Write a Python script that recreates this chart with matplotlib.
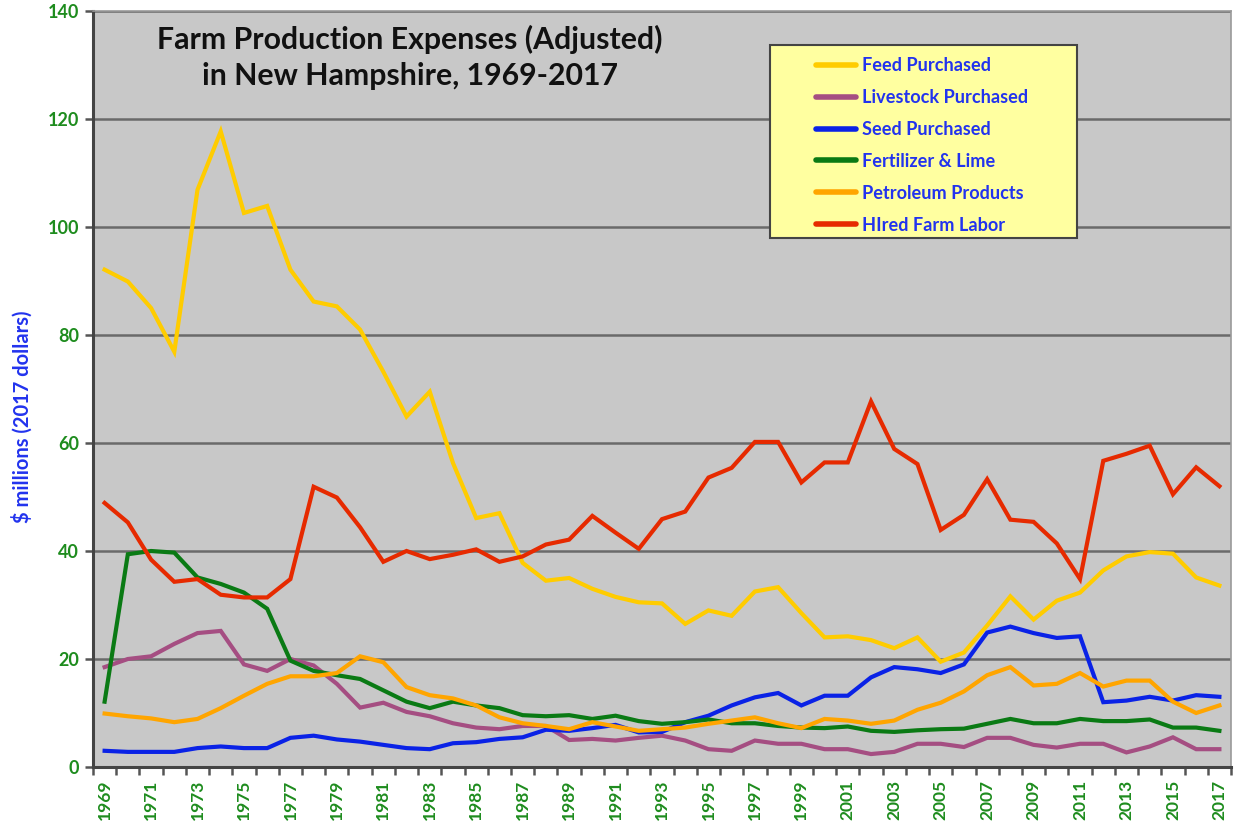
import matplotlib
matplotlib.use("Agg")
import matplotlib.pyplot as plt
from matplotlib.patches import Rectangle
from matplotlib.ticker import FixedLocator
import numpy as np

years = list(range(1969, 2018))

feed = [92.1, 89.9, 85.0, 76.9, 106.9, 117.7, 102.6, 103.9, 92.1, 86.2, 85.3, 81.0,
        73.2, 64.9, 69.5, 56.3, 46.1, 47.0, 37.8, 34.5, 35.0, 33.0, 31.5, 30.5, 30.3,
        26.5, 29.0, 28.0, 32.5, 33.3, 28.5, 24.0, 24.2, 23.5, 22.0, 24.0, 19.5, 21.2,
        26.2, 31.6, 27.3, 30.8, 32.3, 36.4, 39.0, 39.8, 39.5, 35.1, 33.6]
livestock = [18.5, 20.0, 20.5, 22.8, 24.8, 25.2, 19.0, 17.8, 20.0, 18.8, 15.4, 11.0,
             11.9, 10.2, 9.4, 8.1, 7.3, 7.0, 7.6, 7.6, 5.0, 5.2, 4.9, 5.4, 5.8, 4.9,
             3.3, 3.0, 4.9, 4.3, 4.3, 3.3, 3.3, 2.4, 2.8, 4.3, 4.3, 3.7, 5.4, 5.4, 4.1,
             3.6, 4.3, 4.3, 2.7, 3.8, 5.5, 3.3, 3.3]
seed = [3.0, 2.8, 2.8, 2.8, 3.5, 3.8, 3.5, 3.5, 5.4, 5.8, 5.1, 4.7, 4.1, 3.5, 3.3,
        4.4, 4.6, 5.2, 5.5, 6.9, 6.7, 7.2, 7.8, 6.4, 6.5, 8.3, 9.5, 11.4, 12.9, 13.7,
        11.4, 13.2, 13.2, 16.6, 18.5, 18.1, 17.4, 19.0, 24.9, 26.0, 24.8, 23.9, 24.2,
        12.0, 12.3, 13.0, 12.3, 13.3, 13.0]
fertilizer = [12.1, 39.4, 40.0, 39.7, 35.1, 33.9, 32.3, 29.3, 19.7, 17.8, 17.0, 16.3,
              14.2, 12.1, 10.9, 12.1, 11.4, 10.9, 9.6, 9.4, 9.6, 8.9, 9.5, 8.5, 8.0,
              8.3, 8.8, 8.1, 8.1, 7.6, 7.3, 7.2, 7.5, 6.7, 6.5, 6.8, 7.0, 7.1, 8.0, 8.9,
              8.1, 8.1, 8.9, 8.5, 8.5, 8.8, 7.3, 7.3, 6.7]
petroleum = [9.9, 9.4, 9.0, 8.3, 8.9, 10.9, 13.2, 15.4, 16.8, 16.8, 17.4, 20.5, 19.4,
             14.8, 13.3, 12.7, 11.4, 9.2, 8.1, 7.6, 7.0, 8.3, 7.5, 6.7, 7.0, 7.3, 8.0,
             8.6, 9.2, 8.1, 7.2, 8.9, 8.6, 8.0, 8.6, 10.6, 11.9, 14.0, 17.0, 18.5, 15.1,
             15.4, 17.4, 14.9, 16.0, 16.0, 12.1, 10.0, 11.4]
labor = [48.9, 45.3, 38.4, 34.3, 34.8, 31.9, 31.4, 31.4, 34.8, 51.9, 49.9, 44.4, 38.0,
         40.0, 38.5, 39.3, 40.3, 38.0, 39.0, 41.2, 42.1, 46.5, 43.4, 40.4, 45.9, 47.3,
         53.6, 55.4, 60.2, 60.2, 52.7, 56.4, 56.4, 67.7, 58.9, 56.1, 43.9, 46.7, 53.3,
         45.8, 45.4, 41.4, 34.8, 56.7, 58.0, 59.5, 50.5, 55.5, 52.0]

series_names = ["Feed Purchased", "Livestock Purchased", "Seed Purchased",
                "Fertilizer & Lime", "Petroleum Products", "HIred Farm Labor"]
series_values = [feed, livestock, seed, fertilizer, petroleum, labor]
series_colors = ["#ffcc00", "#a54e82", "#0a22e6", "#0a7a14", "#ffa500", "#e62a00"]

y_ticks = [0, 20, 40, 60, 80, 100, 120, 140]
x_labels = [str(y) for y in years[::2]]

title_lines = ["Farm Production Expenses (Adjusted)", "in New Hampshire, 1969-2017"]
y_label = "$ millions (2017 dollars)"

plt.rcParams['font.family'] = ['Lato', 'DejaVu Sans']

W, H = 1238, 831
fig = plt.figure(figsize=(W / 100, H / 100), dpi=100)
ax = fig.add_axes([93 / W, 1 - 767 / H, (1231 - 93) / W, (767 - 11) / H])
ax.set_facecolor("#c8c8c8")

x = np.arange(len(years))
lines = []
for name, vals, col in zip(series_names, series_values, series_colors):
    ln, = ax.plot(x, vals, color=col, lw=3.0, label=name, solid_joinstyle='miter',
                  zorder=3)
    lines.append(ln)

ax.set_xlim(-0.5, len(years) - 0.5)
ax.set_ylim(0, 140)

# y axis
ax.set_yticks(y_ticks)
ax.yaxis.grid(True, color="#6a6a6a", lw=1.8, zorder=1)
ax.set_axisbelow(True)
ax.tick_params(axis='y', direction='out', length=6, width=1.8, color="#555555",
               labelsize=13, labelcolor="#1e8c1e", pad=4)
for lab in ax.get_yticklabels():
    lab.set_fontweight('bold')

# x axis: labels every two years, ticks at category boundaries
ax.xaxis.set_major_locator(FixedLocator(x[::2]))
ax.set_xticklabels(x_labels, rotation=90, fontsize=12.5, fontweight='bold',
                   color="#1e8c1e")
ax.tick_params(axis='x', which='major', length=0, pad=9)
ax.xaxis.set_minor_locator(FixedLocator(np.arange(-0.5, len(years), 1.0)))
ax.tick_params(axis='x', which='minor', direction='out', length=6, width=1.8,
               color="#555555")

for side in ['left', 'bottom']:
    ax.spines[side].set_color("#444444")
    ax.spines[side].set_linewidth(2.2)
for side in ['top', 'right']:
    ax.spines[side].set_color("#9a9a9a")
    ax.spines[side].set_linewidth(1.2)

fig.text(22 / W, 1 - 417 / H, y_label, rotation=90, ha='center', va='center',
         fontsize=14.5, fontweight='bold', color="#2233ee")

fig.text(410 / W, 1 - 39 / H, title_lines[0], ha='center', va='center',
         fontsize=21.8, fontweight='bold', color="#111111")
fig.text(410 / W, 1 - 76 / H, title_lines[1], ha='center', va='center',
         fontsize=21.8, fontweight='bold', color="#111111")

# legend box
fig.patches.append(Rectangle((770 / W, 1 - 238 / H), 307 / W, 193 / H,
                             transform=fig.transFigure, facecolor="#ffffa0",
                             edgecolor="#444444", lw=1.5, zorder=4))
leg = fig.legend(handles=lines, labels=series_names, loc='upper left',
                 bbox_to_anchor=(807 / W, 1 - 48 / H), frameon=False,
                 fontsize=13.1, handlelength=2.2, handletextpad=0.32,
                 labelspacing=0.82, borderpad=0.0)
leg.set_zorder(5)
for t in leg.get_texts():
    t.set_color("#2233ee")
    t.set_fontweight('bold')
for h in leg.legend_handles:
    h.set_linewidth(4)
    h.set_solid_capstyle('round')

fig.savefig("out.png", dpi=100)
